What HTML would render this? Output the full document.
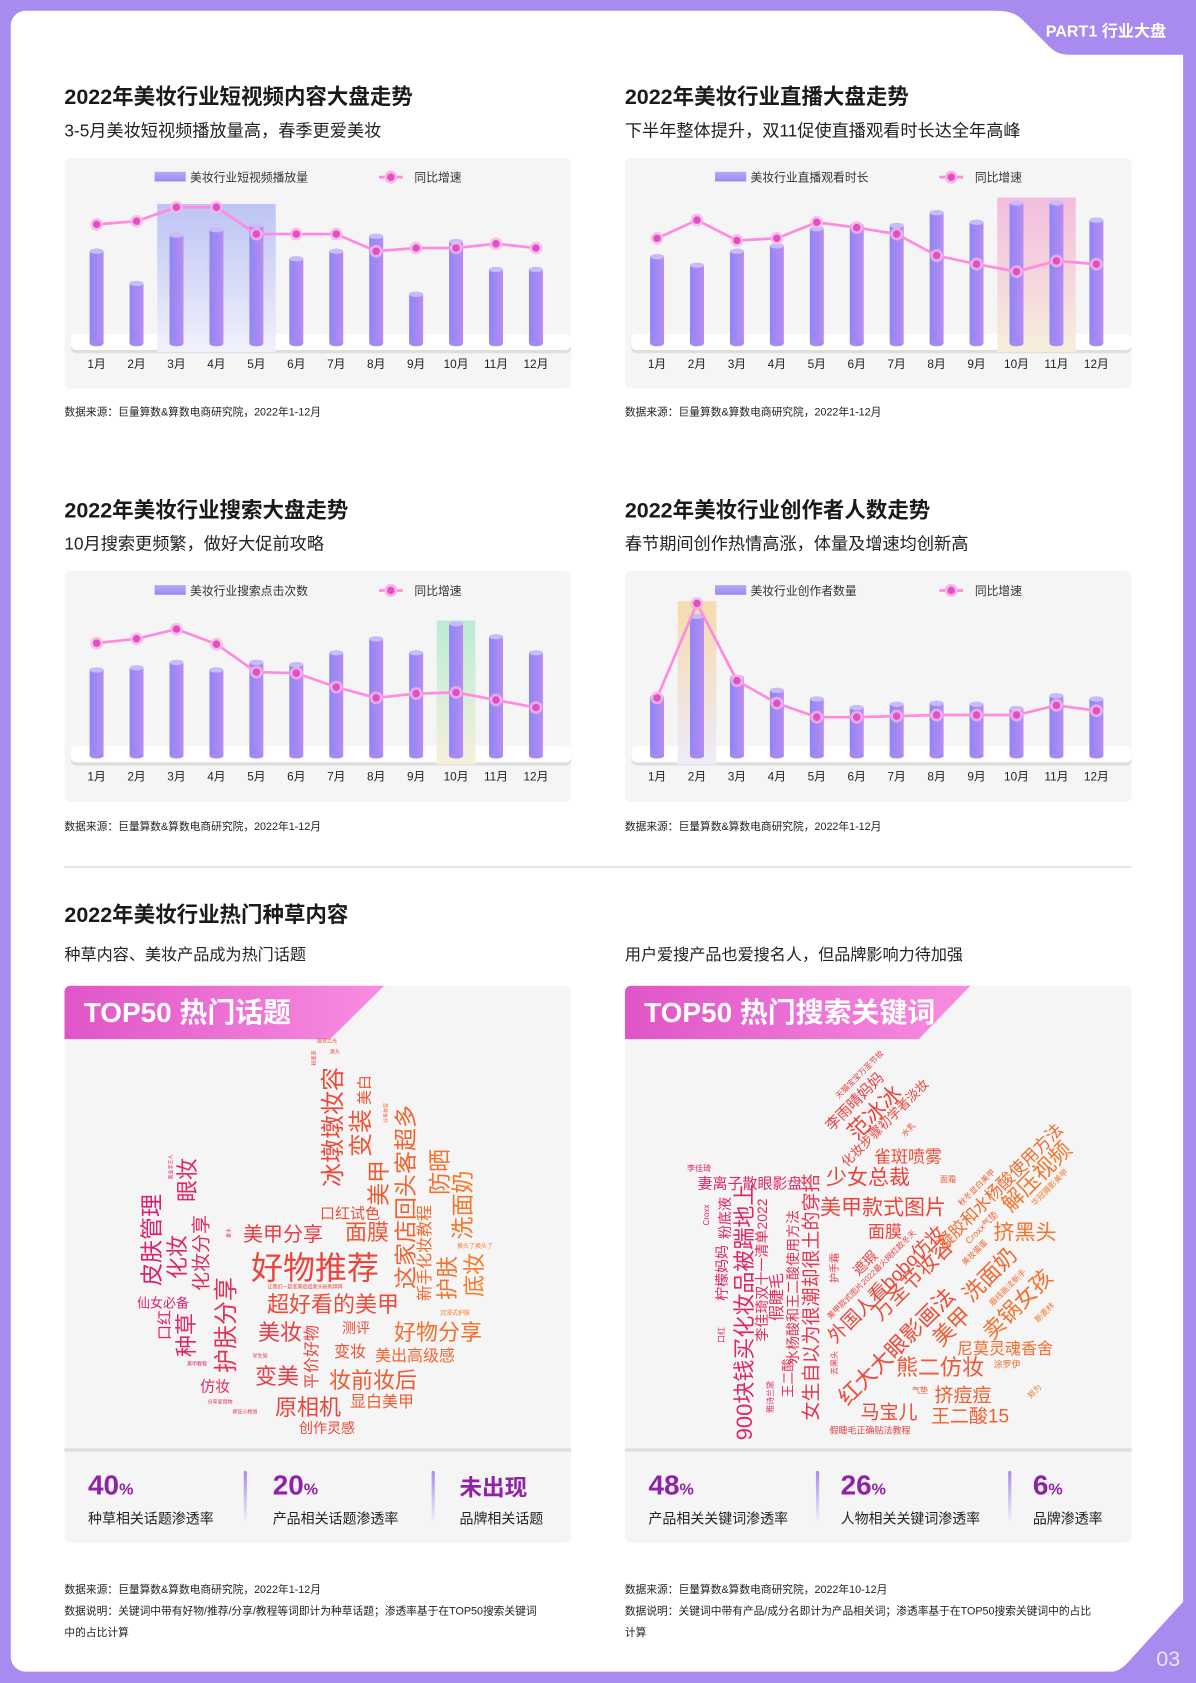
<!DOCTYPE html>
<html><head><meta charset="utf-8">
<style>
*{margin:0;padding:0;box-sizing:border-box}
body{width:1196px;height:1683px;overflow:hidden;background:#a98bf0;position:relative;font-family:"Liberation Sans","Noto Sans CJK SC",sans-serif;color:#1a1a1a}
#wrap{position:absolute;left:0;top:0;width:1114px;height:1568px;transform:scale(1.07361);transform-origin:0 0}
.abs{position:absolute}
.white{left:10px;top:10px;width:1092px;height:1547px;background:#fff;border-radius:14px}
.h1{font-size:20px;font-weight:bold;white-space:nowrap}
.h2{font-size:16px;white-space:nowrap;color:#222}
.src{font-size:10px;color:#222;white-space:nowrap;line-height:20px}
.panel{background:#f5f5f5;border-radius:6px}
.num{font-size:26px;font-weight:bold;color:#8f22a6;white-space:nowrap}
.num small{font-size:15px}
.lab{font-size:13px;color:#222;white-space:nowrap}
.div{width:3px;height:48px;border-radius:2px;background:linear-gradient(#a98bf0,rgba(230,200,250,0.1))}
.banner{height:50px;background:linear-gradient(90deg,#e055c8,#f88de0);color:#fff;font-size:26px;font-weight:bold;padding-left:18px;line-height:50px;white-space:nowrap;border-top-left-radius:6px}
#cloud{position:absolute;left:0;top:0;width:1196px;height:1683px;pointer-events:none}
.w{position:absolute;white-space:nowrap;line-height:1;font-family:"Liberation Sans","Noto Sans CJK SC",sans-serif}
</style></head>
<body>
<div id="wrap">
<div class="abs white"></div>
<svg class="abs" style="left:0;top:0" width="1114" height="1568">
<path d="M928 0 L928 10 Q944 10 952 18 L978 44 Q985 51 996 51 L1114 51 L1114 0 Z" fill="#a98bf0"/>
<path d="M1030 1558 Q1042 1558 1050 1549 L1102 1492 L1114 1492 L1114 1568 L1030 1568 Z" fill="#a98bf0"/>
</svg>
<div class="abs" style="left:974px;top:18px;font-size:15px;font-weight:bold;color:#fff;white-space:nowrap">PART1 行业大盘</div>
<div class="abs" style="left:1077px;top:1535px;font-size:20px;color:#eee6ff;white-space:nowrap">03</div>

<div class="abs h1" style="left:60px;top:74px">2022年美妆行业短视频内容大盘走势</div>
<div class="abs h2" style="left:60px;top:108px">3-5月美妆短视频播放量高，春季更爱美妆</div>
<div class="abs h1" style="left:582px;top:74px">2022年美妆行业直播大盘走势</div>
<div class="abs h2" style="left:582px;top:108px">下半年整体提升，双11促使直播观看时长达全年高峰</div>
<div class="abs h1" style="left:60px;top:459px">2022年美妆行业搜索大盘走势</div>
<div class="abs h2" style="left:60px;top:493px">10月搜索更频繁，做好大促前攻略</div>
<div class="abs h1" style="left:582px;top:459px">2022年美妆行业创作者人数走势</div>
<div class="abs h2" style="left:582px;top:493px">春节期间创作热情高涨，体量及增速均创新高</div>

<div id="c1" class="abs panel" style="left:60px;top:147px;width:472px;height:215px"></div>
<div id="c2" class="abs panel" style="left:582px;top:147px;width:472px;height:215px"></div>
<div id="c3" class="abs panel" style="left:60px;top:532px;width:472px;height:215px"></div>
<div id="c4" class="abs panel" style="left:582px;top:532px;width:472px;height:215px"></div>

<div class="abs src" style="left:60px;top:375px">数据来源：巨量算数&amp;算数电商研究院，2022年1-12月</div>
<div class="abs src" style="left:582px;top:375px">数据来源：巨量算数&amp;算数电商研究院，2022年1-12月</div>
<div class="abs src" style="left:60px;top:761px">数据来源：巨量算数&amp;算数电商研究院，2022年1-12月</div>
<div class="abs src" style="left:582px;top:761px">数据来源：巨量算数&amp;算数电商研究院，2022年1-12月</div>

<div class="abs" style="left:60px;top:807px;width:994px;height:1px;background:#d0d0d0"></div>
<div class="abs h1" style="left:60px;top:836px">2022年美妆行业热门种草内容</div>
<div class="abs h2" style="left:60px;top:878px;font-size:15px">种草内容、美妆产品成为热门话题</div>
<div class="abs h2" style="left:582px;top:878px;font-size:15px">用户爱搜产品也爱搜名人，但品牌影响力待加强</div>

<div class="abs panel" style="left:60px;top:918px;width:472px;height:519px"></div>
<div class="abs panel" style="left:582px;top:918px;width:472px;height:519px"></div>
<div class="abs banner" style="left:60px;top:918px;width:298px;clip-path:polygon(0 0,100% 0,83% 100%,0 100%)">TOP50 热门话题</div>
<div class="abs banner" style="left:582px;top:918px;width:322px;clip-path:polygon(0 0,100% 0,85% 100%,0 100%)">TOP50 热门搜索关键词</div>
<div class="abs" style="left:60px;top:1349px;width:472px;height:3px;background:#dedede"></div>
<div class="abs" style="left:582px;top:1349px;width:472px;height:3px;background:#dedede"></div>

<div class="abs num" style="left:82px;top:1368px">40<small>%</small></div>
<div class="abs lab" style="left:82px;top:1404px">种草相关话题渗透率</div>
<div class="abs div" style="left:227px;top:1370px"></div>
<div class="abs num" style="left:254px;top:1368px">20<small>%</small></div>
<div class="abs lab" style="left:254px;top:1404px">产品相关话题渗透率</div>
<div class="abs div" style="left:402px;top:1370px"></div>
<div class="abs num" style="left:428px;top:1370px;font-size:21px">未出现</div>
<div class="abs lab" style="left:428px;top:1404px">品牌相关话题</div>

<div class="abs num" style="left:604px;top:1368px">48<small>%</small></div>
<div class="abs lab" style="left:604px;top:1404px">产品相关关键词渗透率</div>
<div class="abs div" style="left:760px;top:1370px"></div>
<div class="abs num" style="left:783px;top:1368px">26<small>%</small></div>
<div class="abs lab" style="left:783px;top:1404px">人物相关关键词渗透率</div>
<div class="abs div" style="left:939px;top:1370px"></div>
<div class="abs num" style="left:962px;top:1368px">6<small>%</small></div>
<div class="abs lab" style="left:962px;top:1404px">品牌渗透率</div>

<div class="abs src" style="left:60px;top:1472px">数据来源：巨量算数&amp;算数电商研究院，2022年1-12月<br>数据说明：关键词中带有好物/推荐/分享/教程等词即计为种草话题；渗透率基于在TOP50搜索关键词<br>中的占比计算</div>
<div class="abs src" style="left:582px;top:1472px">数据来源：巨量算数&amp;算数电商研究院，2022年10-12月<br>数据说明：关键词中带有产品/成分名即计为产品相关词；渗透率基于在TOP50搜索关键词中的占比<br>计算</div>
</div>
<div id="cloud"></div>

<script>
const months=['1月','2月','3月','4月','5月','6月','7月','8月','9月','10月','11月','12月'];
const c1Bars=[86,56,101,106,110,79,86,100,46,95,69,69];
const c1Line=[111,114,127,127,102,102,102,86,89,89,93,89];
const c2Bars=[81,73,86,91,107,110,110,122,113,131,131,115];
const c2Line=[98,115,96,98,113,108,102,82,74,67,77,74];
const c3Bars=[80,82,87,80,87,85,96,109,96,123,111,96];
const c3Line=[105,109,118,104,78,77,64,54,58,59,52,45];
const c4Bars=[55,130,73,61,53,45,48,49,48,44,56,53];
const c4Line=[54,142,70,49,36,36,37,38,38,38,47,42];
const c1Legend=['美妆行业短视频播放量','同比增速'];
const c2Legend=['美妆行业直播观看时长','同比增速'];
const c3Legend=['美妆行业搜索点击次数','同比增速'];
const c4Legend=['美妆行业创作者数量','同比增速'];
const NS='http://www.w3.org/2000/svg';
function mk(t,a,p){const e=document.createElementNS(NS,t);for(const k in a)e.setAttribute(k,a[k]);p.appendChild(e);return e;}
function chart(id,bars,line,legend,hl,hc,base){
 const host=document.getElementById(id);
 const s=mk('svg',{width:472,height:215},host);
 const d=mk('defs',{},s);
 const g=mk('linearGradient',{id:id+'b',x1:0,x2:1,y1:0,y2:0},d);
 mk('stop',{offset:0,'stop-color':'#8e86f7'},g);mk('stop',{offset:1,'stop-color':'#b88cf0'},g);
 const h=mk('linearGradient',{id:id+'h',x1:0,x2:0,y1:0,y2:1},d);
 mk('stop',{offset:0,'stop-color':hc[0]},h);mk('stop',{offset:1,'stop-color':hc[1]},h);
 const lg=mk('linearGradient',{id:id+'l',x1:0,x2:0,y1:0,y2:1},d);
 mk('stop',{offset:0,'stop-color':'#b9a8f5'},lg);mk('stop',{offset:1,'stop-color':'#9a88f2'},lg);
 const x=i=>30+i*37.2, y=v=>base-v;
 const l1=mk('rect',{x:84,y:13,width:29,height:9,fill:'url(#'+id+'l)'},s);
 
 const t1=mk('text',{x:117,y:22,'font-size':11,fill:'#333'},s);t1.textContent=legend[0];
 
 mk('line',{x1:293,x2:315,y1:18,y2:18,stroke:'#ff8ae0','stroke-width':2.5},s);
 mk('circle',{cx:304,cy:18,r:6,fill:'#f6b5e6'},s);mk('circle',{cx:304,cy:18,r:3.5,fill:'#e050c4'},s);
 const t2=mk('text',{x:326,y:22,'font-size':11,fill:'#333'},s);t2.textContent=legend[1];
 
 mk('rect',{x:6,y:base-8,width:466,height:17,rx:5,fill:'#dedede'},s);
 mk('rect',{x:6,y:base-9,width:466,height:15,rx:5,fill:'#ffffff'},s);
 if(hl){const r=mk('rect',{x:x(hl[0])-18,y:hl[2],width:x(hl[1])-x(hl[0])+36,height:base+8-hl[2],fill:'url(#'+id+'h)',opacity:0.9},s);
 }
 bars.forEach((v,i)=>{
  const b=mk('rect',{x:x(i)-6.5,y:y(v),width:13,height:v,fill:'url(#'+id+'b)'},s);
  
  mk('ellipse',{cx:x(i),cy:base,rx:6.5,ry:2.5,fill:'#a58af2'},s);
  mk('ellipse',{cx:x(i),cy:y(v),rx:6.5,ry:2.5,fill:'#c8bcf8'},s);
  const t=mk('text',{x:x(i),y:base+23,'font-size':11,'text-anchor':'middle',fill:'#222'},s);t.textContent=months[i];
  
 });
 const pl=mk('polyline',{points:line.map((v,i)=>x(i)+','+y(v)).join(' '),fill:'none',stroke:'#ff8ae0','stroke-width':2.5},s);
 
 line.forEach((v,i)=>{mk('circle',{cx:x(i),cy:y(v),r:6,fill:'#f6b5e6',opacity:0.8},s);
  const c=mk('circle',{cx:x(i),cy:y(v),r:3.5,fill:'#e050c4'},s);
  });
}
chart('c1',c1Bars,c1Line,c1Legend,[2,4,43],['#b7bef5','#f0f1fb'],173);
chart('c2',c2Bars,c2Line,c2Legend,[9,10,37],['#f4b6dc','#f5eed8'],173);
chart('c3',c3Bars,c3Line,c3Legend,[9,9,46],['#b5ebd2','#f6eed8'],172);
chart('c4',c4Bars,c4Line,c4Legend,[1,1,28],['#f6d8a6','#eceaf8'],172);

const cloudL=[['好物推荐',315,1268,32,0],['超好看的美甲',333,1305,22,0],['美甲分享',283,1235,20,0],['面膜',367,1233,22,0],['口红试色',350,1214,15,0],
['冰墩墩妆容',334,1127,24,-90],['变装',362,1133,24,-90],['美白',365,1090,15,-90],['分享妆容',387,1113,5,-90],['美甲',379,1183,23,-90],
['这家店回头客超多',406,1197,23,-90],['新手化妆教程',426,1253,16,-90],['防晒',440,1172,23,-90],['洗面奶',463,1205,23,-90],['护肤',448,1278,22,-90],['底妆',475,1275,22,-90],
['换头了换头了',475,1247,6,0],['沉浸式护肤',455,1314,6,0],['好物分享',438,1333,22,0],['测评',356,1328,14,0],['美出高级感',415,1357,16,0],['变妆',350,1353,16,0],
['妆前妆后',373,1381,22,0],['显白美甲',382,1403,16,0],['原相机',308,1408,22,0],['创作灵感',327,1428,14,0],['变美',277,1377,22,0],['平价好物',313,1357,16,-90],
['美妆',280,1333,22,0],['让我们一起变美痘痘黑头粉刺拜拜',305,1288,5,0],['学生党',260,1357,5,0],['美甲教程',197,1365,5,0],['仿妆',215,1387,15,0],['分享爱用物',220,1403,5,0],
['疯狂小杨哥',245,1413,5,0],['护肤分享',227,1325,24,-90],['种草',187,1335,22,-90],['口红',165,1325,15,-90],['仙女必备',163,1303,13,0],['皮肤管理',152,1240,23,-90],
['化妆',178,1257,22,-90],['化妆分享',202,1253,19,-90],['眼妆',188,1180,22,-90],['美业手艺人',172,1167,5,-90],['香水',230,1233,5,-90],['国货之光',327,1042,5,0],['黑头',335,1053,5,0],['粉底液',315,1058,5,-90]];
const cloudR=[['900块钱买化妆品被踹地上',745,1312,22,-90],['女生自以为很潮却很土的穿搭',812,1297,19,-90],['柠檬妈妈',722,1273,14,-90],['粉底液',725,1218,14,-90],['Croxx',707,1215,8,-90],
['李佳琦双十一清单2022',762,1270,14,-90],['假睫毛',778,1297,16,-90],['水杨酸和王二酸使用方法',793,1287,14,-90],['王二酸',788,1378,13,-90],['雅诗兰黛',771,1397,8,-90],['口红',722,1335,8,-90],
['李佳琦',699,1169,8,0],['妻离子散眼影盘',750,1184,15,0],['少女总裁',868,1178,21,0],['雀斑喷雾',908,1157,17,0],['美甲款式图片',883,1208,21,0],['面膜',885,1232,17,0],['面霜',948,1180,8,0],
['护手霜',836,1268,10,-90],['遮瑕',865,1263,14,-45],['去黑头',835,1363,8,-90],['李雨晴妈妈',855,1102,15,-45],['天猫宝宝万圣节妆',860,1075,8,-45],['范冰冰',875,1113,22,-45],
['化妆步骤初学者淡妆',885,1123,13,-45],['水乳',909,1130,8,-45],['外国人看bobo仿妆',887,1285,19,-45],['美甲款式图片2022最火网红款冬天',872,1275,8,-45],['万圣节妆容',913,1280,21,-45],
['红大大眼影画法',897,1347,22,-45],['美甲',952,1327,22,-45],['凝胶和水杨酸使用方法',1000,1187,17,-45],['解压视频',1037,1177,22,-45],['秋冬显白美甲',977,1188,8,-45],['华冠摄影美甲',1050,1188,8,-45],
['Croxx气垫',982,1228,9,-45],['挤黑头',1025,1233,21,0],['美妆蛋蛋',975,1253,8,-45],['洗面奶',990,1275,22,-45],['眉线画法新手',1008,1288,8,-45],['卖锅女孩',1018,1305,22,-45],
['斯麦林',1045,1313,8,-45],['尼莫灵魂香舍',1005,1350,16,0],['熊二仿妆',940,1368,22,0],['涂罗伊',1007,1365,9,0],['挤痘痘',963,1396,19,0],['郑为',1035,1392,8,-45],
['气垫',920,1391,8,0],['王二酸15',970,1417,19,0],['马宝儿',889,1413,19,0],['假睫毛正确贴法教程',870,1431,9,0]];
function col(t){t=Math.max(0,Math.min(1,t));const A=[222,30,112],B=[234,66,60],C=[246,122,40];
 let a,b,u;if(t<0.5){a=A;b=B;u=t*2}else{a=B;b=C;u=(t-0.5)*2}
 return 'rgb('+a.map((v,i)=>Math.round(v+(b[i]-v)*u)).join(',')+')';}
const cl=document.getElementById('cloud');
function draw(list,x0,x1,name){list.forEach(w=>{const e=document.createElement('div');e.className='w';e.textContent=w[0];
 
 
 e.style.left=w[1]+'px';e.style.top=w[2]+'px';e.style.fontSize=w[3]+'px';e.style.color=col((w[1]-x0)/(x1-x0));
 e.style.transform='translate(-50%,-50%) rotate('+w[4]+'deg)';cl.appendChild(e);});}
draw(cloudL,150,470,'topic-word');
draw(cloudR,700,1050,'keyword-word');
</script>
</body></html>
